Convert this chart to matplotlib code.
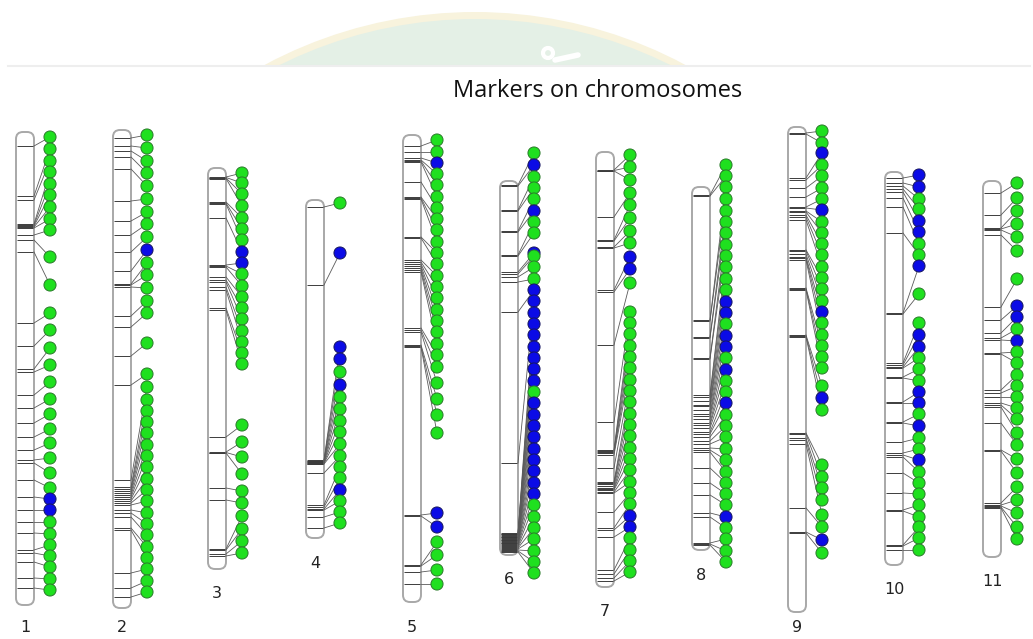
import matplotlib.pyplot as plt
from matplotlib.patches import FancyBboxPatch, Circle, Rectangle

# chromosome extents (top / bottom of each linkage group)
chrom_names = ['1', '2', '3', '4', '5', '6', '7', '8', '9', '10', '11']
chrom_start = [132, 130, 168, 200, 135, 181, 152, 187, 127, 172, 181]
chrom_end = [605, 608, 569, 538, 602, 555, 587, 550, 612, 565, 557]

# marker positions on each chromosome
markers_1 = [146, 196, 200, 224, 225, 226, 227, 228, 235, 240, 252, 323, 346, 369, 372, 395,
             408, 423, 437, 450, 460, 463, 480, 497, 510, 522, 533, 550, 553, 562, 578, 588]
markers_2 = [138, 146, 151, 157, 169, 201, 221, 235, 252, 271, 284, 285, 287, 316, 327, 356,
             385, 480, 487, 489, 491, 493, 495, 497, 499, 501, 503, 505, 510, 513, 517, 528,
             530, 573, 588, 597]
markers_3 = [177, 177.5, 178, 178.5, 202, 203, 204, 218, 265, 266, 267, 277, 280, 282, 287,
             290, 308, 310, 437, 452, 452.5, 453, 488, 500, 549, 550, 554, 556]
markers_4 = [207, 285, 460, 460.5, 461, 461.5, 462, 462.5, 463, 463.5, 464, 473, 505, 507,
             509, 510, 517, 528]
markers_5 = [146, 152, 158, 160, 161, 162, 182, 197, 198, 199, 237, 238, 260, 262, 264, 266,
             268, 270, 272, 328, 330, 332, 345, 346, 347, 515, 516, 565, 566, 572, 584]
markers_6 = [185, 186, 210, 211, 231, 232, 255, 256, 272, 274, 277, 282, 312, 463, 533, 534,
             534, 535, 536, 537, 537, 538, 539, 540, 540, 541, 542, 543, 543, 544, 545, 546,
             547, 548, 549, 550, 551, 552]
markers_7 = [170, 170.5, 171, 217, 240, 241, 247, 248, 290, 292, 345, 422, 450, 451, 452, 453,
             455, 468, 482, 483, 484, 486, 488, 489, 490, 492, 493, 512, 528, 530, 537, 570,
             574, 578, 581]
markers_8 = [195, 196, 320, 321, 337, 338, 358, 359, 395, 397, 401, 405, 406, 410, 414, 416,
             419, 423, 425, 428, 432, 434, 437, 441, 444, 448, 450, 452, 468, 483, 495, 513,
             517, 543, 544, 545]
markers_9 = [133, 134, 178, 180, 188, 197, 207, 208, 211, 212, 215, 217, 220, 250, 251, 254,
             257, 258, 260, 288, 289, 290, 335, 336, 337, 433, 434, 438, 440, 444, 508, 532, 533]
markers_10 = [178, 183, 186, 189, 192, 198, 207, 233, 313, 314, 363, 365, 367, 368, 377, 378,
              402, 403, 422, 423, 442, 453, 455, 457, 473, 493, 510, 511, 545, 546, 550]
markers_11 = [193, 215, 228, 229, 230, 235, 307, 320, 333, 338, 340, 353, 354, 390, 393, 397,
              403, 405, 407, 423, 450, 451, 503, 505, 506, 507, 508]

# label (dot) positions beside each chromosome
dots_1 = [137, 149, 161, 172, 184, 195, 207, 219, 230, 257, 285, 313, 330, 348, 365, 382,
          399, 414, 429, 443, 458, 473, 488, 499, 510, 522, 534, 545, 556, 567, 579, 590]
dots_2 = [135, 148, 161, 173, 186, 199, 212, 224, 237, 250, 263, 275, 288, 301, 313, 343,
          374, 387, 400, 411, 422, 433, 445, 456, 467, 479, 490, 501, 513, 524, 535, 547,
          558, 569, 581, 592]
dots_3 = [173, 183, 194, 206, 218, 229, 240, 252, 263, 274, 286, 297, 308, 319, 331, 342,
          353, 364, 425, 442, 457, 474, 491, 503, 516, 529, 541, 553]
dots_4 = [203, 253, 347, 359, 372, 385, 397, 409, 421, 432, 444, 456, 467, 478, 490, 501,
          512, 523]
dots_5 = [140, 152, 163, 174, 185, 197, 208, 219, 230, 242, 253, 264, 276, 287, 298, 310,
          321, 332, 344, 355, 367, 383, 399, 415, 433, 513, 527, 542, 555, 570, 584]
dots_6 = [153, 165, 177, 188, 199, 211, 222, 233, 253, 256, 267, 279, 290, 301, 313, 324,
          335, 347, 358, 369, 381, 392, 403, 415, 426, 437, 449, 460, 471, 483, 494, 505,
          517, 528, 539, 551, 562, 573]
dots_7 = [155, 167, 180, 193, 205, 218, 231, 243, 257, 269, 283, 312, 323, 334, 346, 357,
          368, 380, 391, 402, 414, 425, 436, 448, 459, 470, 482, 493, 504, 516, 527, 538,
          550, 561, 572]
dots_8 = [165, 176, 187, 199, 211, 222, 233, 245, 256, 267, 279, 290, 302, 313, 324, 336,
          347, 358, 370, 381, 392, 403, 415, 426, 437, 449, 460, 472, 483, 494, 505, 517,
          528, 539, 551, 562]
dots_9 = [131, 143, 153, 165, 176, 188, 199, 210, 222, 233, 244, 255, 267, 278, 289, 301,
          312, 323, 335, 346, 357, 368, 386, 398, 410, 465, 477, 488, 500, 515, 527, 540, 553]
dots_10 = [175, 187, 199, 209, 221, 232, 244, 255, 266, 294, 323, 335, 347, 358, 369, 381,
           392, 403, 414, 426, 438, 449, 460, 472, 483, 494, 505, 517, 527, 538, 550]
dots_11 = [183, 198, 211, 224, 237, 251, 279, 306, 317, 329, 341, 352, 363, 375, 386, 397,
           408, 419, 433, 445, 459, 473, 487, 500, 513, 527, 539]

# marker class: g = green, b = blue
geno_1 = "gggggggggggggggggggggggbbggggggg"
geno_2 = "gggggggggbgggggggggggggggggggggggggg"
geno_3 = "gggggggbbggggggggggggggggggg"
geno_4 = "gbbbgbggggggggbggg"
geno_5 = "ggbggggggggggggggggggggggbbgggg"
geno_6 = "gbgggbgg" + "bggg" + "bbbbbbbbb" + "g" + "bbbbbbbbb" + "ggggggg"
geno_7 = "ggggggggbbg" + "ggggggggggggggggggbbgggg"
geno_8 = "ggggggggggggbbgbbgbggbgggggggggbgggg"
geno_9 = "ggbggggbggggggggbggggggbg" + "ggggggbg"
geno_10 = "bbggbbggbggbbgggbbgbggb" + "gggggggg"
geno_11 = "gggggggbbgbgggggggggggggggg"

markers = [markers_1, markers_2, markers_3, markers_4, markers_5, markers_6,
           markers_7, markers_8, markers_9, markers_10, markers_11]
dots = [dots_1, dots_2, dots_3, dots_4, dots_5, dots_6, dots_7, dots_8, dots_9, dots_10, dots_11]
genos = [geno_1, geno_2, geno_3, geno_4, geno_5, geno_6, geno_7, geno_8, geno_9, geno_10, geno_11]

chrom_x = [16, 113, 208, 306, 403, 500, 596, 692, 788, 885, 983]  # left edge of each bar
width = 18
face = {'g': '#1fe01f', 'b': '#0b0be6'}
edge = {'g': '#2a7a2a', 'b': '#161660'}

fig = plt.figure(figsize=(10.33, 6.39), dpi=100)
ax = fig.add_axes([0, 0, 1, 1])
ax.set_xlim(0, 1033)
ax.set_ylim(639, 0)
ax.axis('off')

# faded watermark at the top of the slide
clip = Rectangle((0, 0), 1033, 65, transform=ax.transData)
for r, col in [(445, '#f8f3dd'), (438, '#e4f0e6')]:
    c = Circle((475, 457), r, fc=col, ec='none', zorder=0)
    ax.add_patch(c)
    c.set_clip_path(clip)
ring = Circle((548, 53), 5, fc='none', ec='white', lw=3, zorder=0.5)
ax.add_patch(ring)
ring.set_clip_path(clip)
ax.plot([555, 578], [60, 55], color='white', lw=4, solid_capstyle='round', zorder=0.5)
ax.plot([8, 1030], [66, 66], color='#eeeeee', lw=1.5, zorder=1)

ax.text(598, 91, 'Markers on chromosomes', ha='center', va='center',
        fontsize=17, family='Open Sans', color='#111111')

for i in range(len(chrom_names)):
    x0 = chrom_x[i]
    top, bot = chrom_start[i], chrom_end[i]
    dx = x0 + 34
    box = FancyBboxPatch((x0, top), width, bot - top, boxstyle="round,pad=0,rounding_size=7",
                         fc='white', ec='#a8a8a8', lw=1.4, zorder=2)
    ax.add_patch(box)
    ax.hlines(markers[i], x0 + 1, x0 + width - 1, color='#3c3c3c', lw=0.7, zorder=3)
    for m, d in zip(markers[i], dots[i]):
        ax.plot([x0 + width, dx], [m, d], color='#5a5a5a', lw=0.6, zorder=3)
    g = genos[i]
    ax.scatter([dx] * len(dots[i]), dots[i], s=76,
               c=[face[k] for k in g], edgecolors=[edge[k] for k in g],
               linewidths=0.7, zorder=4)
    ax.text(x0 + width / 2, min(bot + 25, 628), chrom_names[i], ha='center', va='center',
            fontsize=11.5, color='#222222')

plt.savefig('out.png', dpi=100)
